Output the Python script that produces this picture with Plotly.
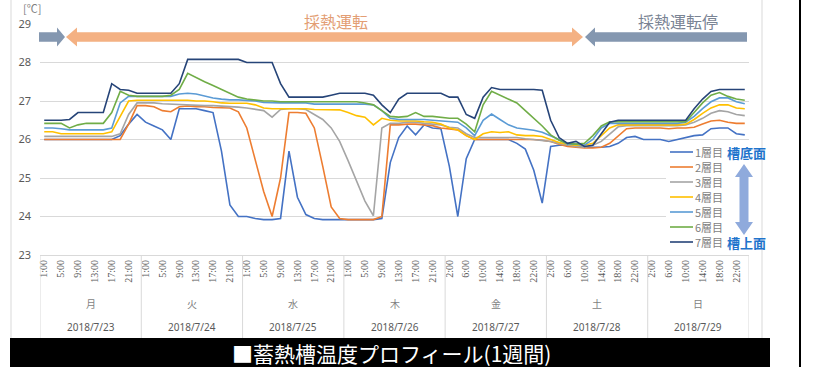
import plotly.graph_objects as go

# ---- data -------------------------------------------------------------
dates = ["2018/7/23", "2018/7/24", "2018/7/25", "2018/7/26",
         "2018/7/27", "2018/7/28", "2018/7/29"]
weekdays = ["月", "火", "水", "木", "金", "土", "日"]
first_hour = [1, 1, 1, 1, 2, 2, 2]          # first logged hour of each day
step_hours = 2                               # logging interval (h)
points_per_day = 12
layer_names = ["1層目", "2層目", "3層目", "4層目", "5層目", "6層目", "7層目"]

layer1 = [26.0, 26.0, 26.0, 26.0, 26.0, 26.0, 26.0, 26.0, 26.0, 26.1, 26.4, 26.65,
          26.45, 26.35, 26.25, 26.0, 26.8, 26.8, 26.8, 26.75, 26.7, 25.7, 24.3, 24.0,
          24.0, 23.95, 23.92, 23.92, 23.95, 25.7, 24.5, 24.05, 23.95, 23.92, 23.92, 23.92,
          23.92, 23.92, 23.92, 23.92, 23.95, 25.4, 26.05, 26.35, 26.12, 26.38, 26.3, 26.28,
          25.3, 24.0, 25.5, 26.0, 26.0, 26.0, 26.0, 26.0, 25.9, 25.75, 25.2, 24.35,
          25.82, 25.85, 25.85, 25.82, 25.8, 25.8, 25.8, 25.82, 25.9, 26.05, 26.08, 26.0,
          26.0, 26.0, 25.95, 26.0, 26.05, 26.1, 26.12, 26.28, 26.3, 26.3, 26.15, 26.12]
layer2 = [26.0, 26.0, 26.0, 26.0, 26.0, 26.0, 26.0, 26.0, 26.0, 26.0, 26.4, 26.88,
          26.88, 26.85, 26.75, 26.72, 26.85, 26.87, 26.85, 26.85, 26.83, 26.83, 26.82, 26.72,
          26.3, 25.47, 24.65, 24.0, 25.0, 26.7, 26.7, 26.68, 26.3, 25.3, 24.25, 23.95,
          23.92, 23.92, 23.92, 23.92, 24.0, 26.38, 26.38, 26.4, 26.4, 26.38, 26.36, 26.3,
          26.28, 26.25, 26.1, 26.0, 26.0, 26.0, 26.0, 26.0, 26.0, 26.0, 26.0, 25.98,
          25.95, 25.88, 25.82, 25.8, 25.78, 25.78, 25.8, 25.9, 26.1, 26.28, 26.3, 26.3,
          26.3, 26.3, 26.28, 26.3, 26.3, 26.32, 26.4, 26.48, 26.5, 26.45, 26.42, 26.42]
layer3 = [26.08, 26.08, 26.08, 26.08, 26.08, 26.08, 26.08, 26.08, 26.08, 26.15, 26.65, 26.95,
          26.95, 26.95, 26.93, 26.92, 26.9, 26.9, 26.88, 26.88, 26.88, 26.87, 26.85, 26.84,
          26.82, 26.78, 26.75, 26.58, 26.78, 26.8, 26.8, 26.78, 26.65, 26.52, 26.3, 25.95,
          25.45, 24.9, 24.4, 24.02, 26.3, 26.42, 26.42, 26.45, 26.45, 26.42, 26.4, 26.38,
          26.32, 26.3, 26.15, 26.05, 26.05, 26.05, 26.05, 26.05, 26.05, 26.02, 26.0, 25.98,
          25.95, 25.9, 25.85, 25.82, 25.8, 25.85, 25.95, 26.15, 26.33, 26.36, 26.36, 26.36,
          26.36, 26.36, 26.35, 26.36, 26.38, 26.45, 26.55, 26.68, 26.75, 26.72, 26.65, 26.62]
layer4 = [26.2, 26.2, 26.15, 26.15, 26.15, 26.15, 26.15, 26.15, 26.2, 26.6, 27.0, 27.02,
          27.02, 27.02, 27.02, 27.02, 27.02, 27.02, 27.0, 27.0, 26.98, 26.95, 26.94, 26.94,
          26.94, 26.9, 26.82, 26.8, 26.8, 26.8, 26.8, 26.8, 26.78, 26.78, 26.78, 26.77,
          26.7, 26.62, 26.58, 26.38, 26.55, 26.5, 26.48, 26.48, 26.48, 26.46, 26.45, 26.4,
          26.3, 26.25, 26.1, 26.0, 26.15, 26.2, 26.18, 26.2, 26.12, 26.1, 26.1, 26.08,
          26.0, 25.92, 25.88, 25.85, 25.85, 25.9, 26.1, 26.3, 26.38, 26.38, 26.38, 26.38,
          26.38, 26.38, 26.38, 26.38, 26.4, 26.52, 26.68, 26.82, 26.9, 26.9, 26.82, 26.8]
layer5 = [26.3, 26.3, 26.28, 26.25, 26.25, 26.25, 26.25, 26.25, 26.3, 26.95, 27.12, 27.12,
          27.12, 27.12, 27.12, 27.12, 27.18, 27.2, 27.18, 27.12, 27.08, 27.05, 27.03, 27.03,
          27.02, 27.0, 26.96, 26.95, 26.95, 26.95, 26.95, 26.95, 26.92, 26.92, 26.92, 26.92,
          26.92, 26.92, 26.92, 26.9, 26.75, 26.55, 26.52, 26.52, 26.52, 26.52, 26.5, 26.48,
          26.46, 26.45, 26.3, 26.1, 26.5, 26.66, 26.52, 26.38, 26.3, 26.27, 26.24, 26.19,
          26.1, 26.0, 25.88, 25.88, 25.85, 26.0, 26.3, 26.42, 26.42, 26.42, 26.42, 26.42,
          26.42, 26.42, 26.42, 26.42, 26.45, 26.6, 26.8, 26.98, 27.08, 27.08, 26.98, 26.93]
layer6 = [26.42, 26.42, 26.42, 26.3, 26.38, 26.42, 26.42, 26.42, 26.7, 27.25, 27.15, 27.12,
          27.12, 27.12, 27.12, 27.15, 27.3, 27.72, 27.6, 27.5, 27.4, 27.3, 27.2, 27.1,
          27.05, 27.02, 27.0, 27.0, 26.98, 26.98, 26.98, 26.98, 26.98, 26.98, 26.98, 26.98,
          26.98, 26.98, 26.95, 26.9, 26.75, 26.6, 26.58, 26.6, 26.7, 26.6, 26.6, 26.58,
          26.55, 26.55, 26.4, 26.2, 26.9, 27.25, 27.15, 27.05, 26.95, 26.75, 26.55, 26.35,
          26.12, 25.98, 25.9, 25.88, 25.9, 26.1, 26.35, 26.46, 26.46, 26.46, 26.46, 26.46,
          26.46, 26.46, 26.46, 26.46, 26.46, 26.7, 26.95, 27.15, 27.22, 27.12, 27.05, 27.02]
layer7 = [26.5, 26.5, 26.5, 26.52, 26.7, 26.7, 26.7, 26.7, 27.45, 27.3, 27.28, 27.2,
          27.2, 27.2, 27.2, 27.2, 27.45, 28.08, 28.08, 28.08, 28.08, 28.08, 28.08, 28.08,
          28.0, 28.0, 28.0, 28.0, 27.45, 27.1, 27.1, 27.1, 27.1, 27.1, 27.15, 27.2,
          27.2, 27.2, 27.2, 27.15, 26.9, 26.7, 27.05, 27.2, 27.2, 27.2, 27.2, 27.2,
          27.1, 27.1, 26.65, 26.55, 27.1, 27.35, 27.3, 27.3, 27.3, 27.3, 27.3, 27.28,
          26.5, 26.05, 25.9, 25.95, 25.82, 25.85, 26.15, 26.45, 26.5, 26.5, 26.5, 26.5,
          26.5, 26.5, 26.5, 26.5, 26.5, 26.8, 27.05, 27.25, 27.3, 27.3, 27.3, 27.3]

layers = [layer1, layer2, layer3, layer4, layer5, layer6, layer7]
colors = ["#4472C4", "#ED7D31", "#A5A5A5", "#FFC000", "#5B9BD5", "#70AD47", "#264478"]

# ---- category positions and time labels -------------------------------
times, tick_vals, tick_text = [], [], []
for d, date in enumerate(dates):
    for k in range(points_per_day):
        h = (first_hour[d] + step_hours * k) % 24
        idx = d * points_per_day + k
        times.append(f"{date} {h}:00")
        if k % 2 == 0:
            tick_vals.append(idx)
            tick_text.append(f"{h}:00")
x_idx = list(range(len(times)))
n_pts = len(times)

# ---- page geometry ----------------------------------------------------
W, H = 813, 367
ML, MR, MT, MB = 40, 64, 24, 112
PW, PH = W - ML - MR, H - MT - MB


def px(x):
    return (x - ML) / PW


def py(y):
    return (H - MB - y) / PH


def poly(pts):
    return "M " + " L ".join(f"{px(a):.5f},{py(b):.5f}" for a, b in pts) + " Z"


def label(x, y, text, size, color, family="Noto Sans CJK JP", xanchor="center",
          xref="paper"):
    return dict(x=x, y=y, xref=xref, yref="paper", text=text, showarrow=False,
                xanchor=xanchor, yanchor="middle", borderpad=0,
                font=dict(family=family, size=size, color=color))


GRID = "#d9d9d9"
TXT = "#595959"

fig = go.Figure()
for name, vals, col in zip(layer_names, layers, colors):
    fig.add_trace(go.Scatter(x=x_idx, y=vals, name=name, mode="lines",
                             text=times, line=dict(color=col, width=1.6),
                             showlegend=False))

shapes = []
# day separators through the category label rows
for d in range(len(dates) + 1):
    xs = d * points_per_day - 0.5
    shapes.append(dict(type="line", xref="x", yref="paper", x0=xs, x1=xs,
                       y0=0, y1=py(338), line=dict(color=GRID, width=1)))
# chart frame
for xf in (11, 762):
    shapes.append(dict(type="line", xref="paper", yref="paper", x0=px(xf), x1=px(xf),
                       y0=py(0), y1=py(338), line=dict(color=GRID, width=1)))
# operating-mode arrows
BLUEGRAY = "#8497B0"
ORANGE = "#F4B183"
shapes.append(dict(type="path", xref="paper", yref="paper", line=dict(width=0),
                   fillcolor=BLUEGRAY,
                   path=poly([(39, 32.3), (57, 32.3), (57, 27.5), (65, 37), (57, 46.5),
                              (57, 41.7), (39, 41.7)])))
shapes.append(dict(type="path", xref="paper", yref="paper", line=dict(width=0),
                   fillcolor=ORANGE,
                   path=poly([(66, 37), (77, 27.5), (77, 32.3), (572, 32.3), (572, 27.5),
                              (583, 37), (572, 46.5), (572, 41.7), (77, 41.7), (77, 46.5)])))
shapes.append(dict(type="path", xref="paper", yref="paper", line=dict(width=0),
                   fillcolor=BLUEGRAY,
                   path=poly([(585, 37), (595, 27.5), (595, 32.3), (747, 32.3),
                              (747, 41.7), (595, 41.7), (595, 46.5)])))
# legend panel
shapes.append(dict(type="rect", xref="paper", yref="paper", layer="above",
                   x0=px(666), x1=px(752), y0=py(145), y1=py(250),
                   fillcolor="white", line=dict(width=0)))
for k, col in enumerate(colors):
    yk = 152 + 15 * k
    shapes.append(dict(type="line", xref="paper", yref="paper", layer="above",
                       x0=px(670), x1=px(693), y0=py(yk), y1=py(yk),
                       line=dict(color=col, width=1.6)))
# bottom-to-top double arrow beside the legend
shapes.append(dict(type="path", xref="paper", yref="paper", layer="above",
                   line=dict(width=0), fillcolor="#8FAADC",
                   path=poly([(744, 164), (753, 177), (748.5, 177), (748.5, 222),
                              (753, 222), (744, 235), (735, 222), (739.5, 222),
                              (739.5, 177), (735, 177)])))
# title band and right page edge
shapes.append(dict(type="rect", xref="paper", yref="paper",
                   x0=px(10), x1=px(770), y0=py(338), y1=py(368),
                   fillcolor="black", line=dict(width=0)))
shapes.append(dict(type="line", xref="paper", yref="paper",
                   x0=px(800), x1=px(800), y0=py(0), y1=py(367),
                   line=dict(color="black", width=2)))

ann = []
for d in range(len(dates)):
    xc = d * points_per_day + (points_per_day - 1) / 2
    ann.append(label(xc, py(303), weekdays[d], 10, "#7f7f7f", xref="x"))
    ann.append(label(xc, py(327), dates[d], 10, TXT, family="Noto Sans", xref="x"))
for k, name in enumerate(layer_names):
    ann.append(label(px(694), py(152 + 15 * k), name, 11, "#7f7f7f", xanchor="left"))
ann += [
    label(px(746), py(152), "<b>槽底面</b>", 13, "#1F74CC"),
    label(px(746), py(242), "<b>槽上面</b>", 13, "#1F74CC"),
    label(px(336), py(21), "採熱運転", 16, "#E39E74"),
    label(px(678), py(21), "採熱運転停", 16, "#7A8494"),
    label(px(32), py(8), "[℃]", 11, "#7f7f7f"),
    label(px(391), py(353), "■蓄熱槽温度プロフィール(1週間)", 21, "white"),
]

fig.update_layout(
    width=W, height=H, autosize=False,
    margin=dict(l=ML, r=MR, t=MT, b=MB),
    paper_bgcolor="white", plot_bgcolor="white",
    showlegend=False, shapes=shapes, annotations=ann,
    xaxis=dict(range=[-0.5, n_pts - 0.5], tickmode="array", tickvals=tick_vals,
               ticktext=tick_text, tickangle=-90, showgrid=False, zeroline=False,
               showline=True, linecolor=GRID, linewidth=1, ticks="",
               tickfont=dict(family="Liberation Serif", size=10, color=TXT)),
    yaxis=dict(range=[23, 29], tickmode="array", tickvals=[23, 24, 25, 26, 27, 28, 29],
               showgrid=True, gridcolor=GRID, gridwidth=1, zeroline=False,
               showline=False, ticks="", ticklabelstandoff=8,
               tickfont=dict(family="Noto Sans", size=11, color=TXT)),
)

fig.write_html("out.html")
